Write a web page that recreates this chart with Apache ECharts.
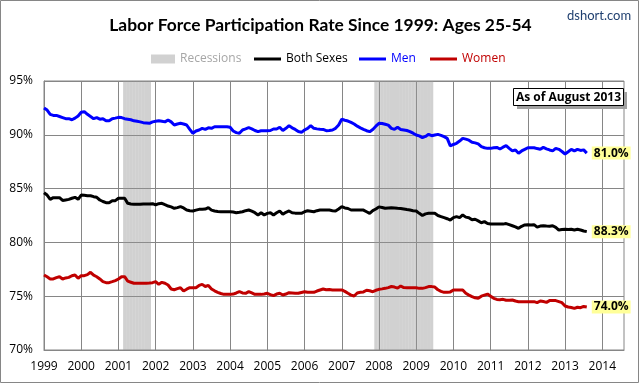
<!DOCTYPE html>
<html><head><meta charset="utf-8">
<script src="https://cdn.jsdelivr.net/npm/echarts@6/dist/echarts.min.js"></script>
<style>html,body{margin:0;padding:0;background:#fff}#c{width:641px;height:385px}</style>
</head><body><div id="c"></div>
<script>
const startYear = 1999;
const monthCount = 188; // Jan 1999 .. Aug 2014 (axis extent)
const yTicks = [70, 75, 80, 85, 90, 95];
const recessions = [['2001-03', '2001-11'], ['2007-12', '2009-06']];
const endLabels = { both: '88.3%', men: '81.0%', women: '74.0%' };

const bothSexes = [
  84.62,84.4,84.0,84.16,84.16,84.16,83.9,83.95,84.0,84.1,84.19,84.0,
  84.4,84.38,84.34,84.34,84.25,84.19,83.94,83.8,83.69,83.69,83.88,83.88,
  84.1,84.1,84.1,83.63,83.57,83.54,83.54,83.54,83.57,83.57,83.57,83.6,
  83.48,83.6,83.63,83.5,83.38,83.3,83.17,83.23,83.32,83.2,83.01,82.95,
  82.92,83.0,83.07,83.07,83.1,83.23,83.0,82.92,82.88,82.85,82.85,82.85,
  82.85,82.82,82.76,82.8,82.85,82.95,83.01,82.9,82.76,82.55,82.76,82.55,
  82.7,82.76,82.55,82.75,82.92,82.61,82.8,82.92,82.76,82.72,82.7,82.7,
  82.85,82.95,82.9,82.85,82.95,83.01,83.01,83.01,83.01,82.95,82.92,83.1,
  83.32,83.2,83.15,83.01,83.01,83.01,83.01,83.0,82.85,82.7,82.95,83.1,
  83.3,83.25,83.17,83.2,83.23,83.2,83.17,83.15,83.1,83.05,83.01,82.95,
  82.92,82.7,82.5,82.65,82.7,82.7,82.7,82.5,82.4,82.3,82.2,82.08,
  82.3,82.39,82.3,82.55,82.35,82.3,82.1,82.15,82.0,81.83,81.93,81.75,
  81.71,81.71,81.71,81.71,81.7,81.75,81.65,81.55,81.45,81.31,81.5,81.62,
  81.65,81.62,81.65,81.42,81.52,81.55,81.52,81.5,81.55,81.4,81.15,81.2,
  81.22,81.2,81.22,81.15,81.22,81.15,81.06,81.0
];
const men = [
  92.5,92.3,91.9,91.8,91.8,91.7,91.6,91.5,91.5,91.4,91.55,91.75,
  92.1,92.15,91.9,91.7,91.5,91.6,91.45,91.5,91.3,91.3,91.5,91.55,
  91.62,91.6,91.5,91.45,91.4,91.3,91.25,91.2,91.13,91.1,91.07,91.2,
  91.25,91.3,91.25,91.2,91.38,91.2,90.91,91.0,91.07,91.0,90.91,90.5,
  90.14,90.35,90.45,90.6,90.5,90.65,90.6,90.75,90.75,90.75,90.75,90.75,
  90.7,90.35,90.2,90.14,90.45,90.55,90.66,90.55,90.4,90.29,90.38,90.38,
  90.38,90.4,90.54,90.54,90.7,90.4,90.6,90.85,90.65,90.5,90.3,90.23,
  90.45,90.6,90.85,90.6,90.55,90.51,90.5,90.38,90.4,90.45,90.6,90.91,
  91.44,91.35,91.28,91.15,91.0,90.8,90.65,90.51,90.38,90.29,90.5,90.8,
  91.07,91.05,90.98,90.9,90.6,90.51,90.7,90.5,90.45,90.4,90.3,90.15,
  89.98,89.9,89.74,89.85,90.04,89.92,89.98,90.04,89.95,89.83,89.67,88.97,
  89.1,89.21,89.42,89.67,89.6,89.5,89.3,89.25,89.15,88.9,88.8,88.74,
  88.74,88.8,88.83,88.68,88.85,88.99,88.74,88.5,88.59,88.28,88.5,88.65,
  88.8,88.8,88.8,88.72,88.65,88.83,88.7,88.59,88.5,88.74,88.65,88.45,
  88.22,88.43,88.65,88.5,88.65,88.55,88.6,88.3
];
const women = [
  76.97,76.8,76.6,76.6,76.72,76.81,76.6,76.7,76.75,76.9,76.97,76.66,
  76.91,76.91,77.0,77.22,76.95,76.81,76.6,76.35,76.26,76.26,76.35,76.45,
  76.6,76.81,76.81,76.4,76.3,76.2,76.2,76.2,76.2,76.2,76.22,76.26,
  76.35,76.1,76.29,76.2,76.04,75.67,75.6,75.7,75.79,75.48,75.65,75.79,
  75.79,75.79,76.0,76.1,75.9,76.0,75.67,75.5,75.36,75.25,75.17,75.17,
  75.17,75.2,75.3,75.42,75.3,75.27,75.42,75.3,75.17,75.17,75.17,75.2,
  75.27,75.15,75.05,75.2,75.27,75.11,75.2,75.33,75.3,75.27,75.27,75.35,
  75.42,75.36,75.36,75.36,75.48,75.58,75.67,75.6,75.62,75.58,75.58,75.58,
  75.58,75.45,75.27,75.1,75.02,75.3,75.36,75.4,75.55,75.5,75.42,75.55,
  75.64,75.68,75.73,75.8,75.9,75.85,75.75,75.95,75.8,75.79,75.79,75.79,
  75.79,75.73,75.73,75.8,75.89,75.89,75.85,75.6,75.45,75.36,75.36,75.4,
  75.58,75.58,75.58,75.58,75.27,75.1,74.96,74.85,74.8,75.0,75.1,75.2,
  75.0,74.8,74.7,74.68,74.71,74.62,74.62,74.65,74.55,74.49,74.49,74.49,
  74.49,74.49,74.49,74.4,74.55,74.5,74.43,74.59,74.59,74.59,74.5,74.4,
  74.09,74.0,73.95,73.87,73.97,73.93,74.05,74.0
];

const months = [];
for (let i = 0; i < monthCount; i++) {
  const y = startYear + Math.floor(i / 12), m = (i % 12) + 1;
  months.push(y + '-' + (m < 10 ? '0' + m : m));
}
const yMax = yTicks[yTicks.length - 1];
const recessionData = months.map(m => recessions.some(r => m >= r[0] && m <= r[1]) ? yMax : null);
const isJan = (idx) => idx % 12 === 0;

const FONT = 'Open Sans';
const chart = echarts.init(document.getElementById('c'), null, { renderer: 'canvas' });
const lineLabel = (txt) => ({
  show: true, formatter: txt, color: '#000', fontFamily: FONT, fontWeight: 'bold', fontSize: 12,
  backgroundColor: '#FFFF99', padding: [1, 2, 0, 2], distance: 5
});
chart.setOption({
  animation: false,
  backgroundColor: '#fff',
  title: {
    text: 'Labor Force Participation Rate Since 1999: Ages 25-54', left: 'center', top: 12,
    textStyle: { fontFamily: 'Lato', fontWeight: 'bold', fontSize: 17.4, color: '#000' }
  },
  legend: [
    { data: ['Recessions'], left: 146, top: 48, itemWidth: 24, itemHeight: 9, icon: 'rect',
      textStyle: { fontFamily: FONT, fontSize: 12, color: '#A6A6A6' } },
    { data: ['Both Sexes'], left: 249, top: 48, itemWidth: 27, itemHeight: 3, icon: 'rect',
      textStyle: { fontFamily: FONT, fontSize: 12, color: '#000' } },
    { data: ['Men'], left: 354, top: 48, itemWidth: 27, itemHeight: 3, icon: 'rect',
      textStyle: { fontFamily: FONT, fontSize: 12, color: '#0000FF' } },
    { data: ['Women'], left: 425, top: 48, itemWidth: 27, itemHeight: 3, icon: 'rect',
      textStyle: { fontFamily: FONT, fontSize: 12, color: '#C00000' } }
  ],
  grid: { left: 44, right: 17, top: 81, bottom: 35, show: true, borderColor: '#868686', borderWidth: 1 },
  xAxis: {
    type: 'category', data: months, boundaryGap: false,
    axisLine: { lineStyle: { color: '#868686' } },
    axisTick: { show: false },
    axisLabel: { interval: (idx) => isJan(idx), formatter: (v) => v.slice(0, 4), fontFamily: FONT, fontSize: 12, color: '#000', margin: 11 },
    splitLine: { show: true, interval: (idx) => isJan(idx), lineStyle: { color: '#868686', width: 1 } }
  },
  yAxis: {
    type: 'value', min: yTicks[0], max: yMax, interval: 5,
    axisLine: { show: true, lineStyle: { color: '#868686' } },
    axisTick: { show: false },
    axisLabel: { formatter: '{value}%', fontFamily: FONT, fontSize: 12, color: '#000', margin: 11 },
    splitLine: { lineStyle: { color: '#868686', width: 1 } }
  },
  series: [
    { name: 'Recessions', type: 'bar', data: recessionData, barCategoryGap: '0%', barWidth: '100%',
      itemStyle: { color: 'rgba(150,150,150,0.44)' }, silent: true },
    { name: 'Both Sexes', type: 'line', data: bothSexes, showSymbol: false, symbol: 'none',
      lineStyle: { color: '#000', width: 3 }, itemStyle: { color: '#000' }, endLabel: lineLabel(endLabels.both) },
    { name: 'Men', type: 'line', data: men, showSymbol: false, symbol: 'none',
      lineStyle: { color: '#0000FF', width: 3 }, itemStyle: { color: '#0000FF' }, endLabel: lineLabel(endLabels.men) },
    { name: 'Women', type: 'line', data: women, showSymbol: false, symbol: 'none',
      lineStyle: { color: '#C00000', width: 3 }, itemStyle: { color: '#C00000' }, endLabel: lineLabel(endLabels.women) }
  ],
  graphic: [
    { type: 'rect', shape: { x: 0.5, y: 0.5, width: 638, height: 382 }, style: { fill: null, stroke: '#868686', lineWidth: 1 }, z: 100 },
    { type: 'text', left: 567, top: 9, style: { text: 'dshort.com', fill: '#1F3F6F', font: '13px "Lato"' } },
    { type: 'rect', shape: { x: 517, y: 92, width: 110, height: 17 }, style: { fill: '#A0A0A0' }, z: 10 },
    { type: 'rect', shape: { x: 513.5, y: 88.5, width: 110, height: 17 }, style: { fill: '#fff', stroke: '#000', lineWidth: 1 }, z: 11 },
    { type: 'text', x: 568.5, y: 97.5, style: { text: 'As of August 2013', fill: '#000', font: 'bold 12px "Open Sans"', textAlign: 'center', textVerticalAlign: 'middle' }, z: 12 }
  ]
});
</script></body></html>
